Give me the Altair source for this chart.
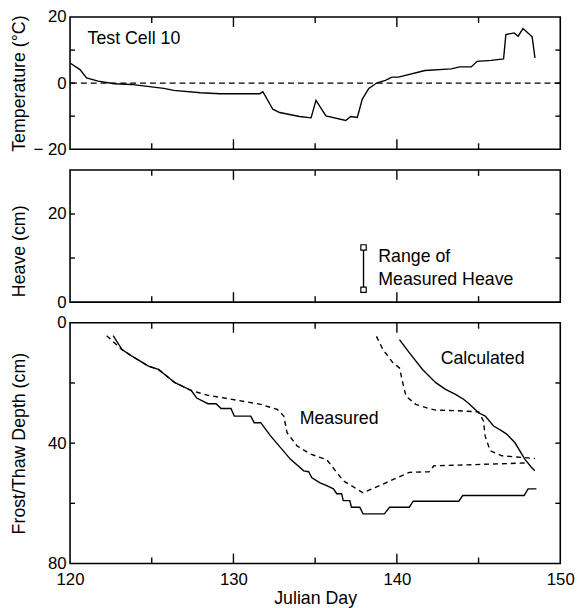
import altair as alt
import pandas as pd

# ---------------- data ----------------
TEMP_DAY = [120.0, 120.61, 121.01, 121.72, 122.71, 123.74, 125.74, 126.35, 127.98, 129.19,
            131.62, 131.8, 132.41, 132.83, 134.04, 134.75, 135.05, 135.66, 136.87, 137.18,
            137.58, 137.88, 138.28, 138.79, 139.3, 139.7, 140.1, 141.72, 143.33, 143.84,
            144.55, 144.91, 145.76, 146.53, 146.67, 147.18, 147.42, 147.72, 148.28, 148.45]
TEMP_C = [6.1, 4.1, 1.6, 0.6, -0.2, -0.4, -1.6, -2.2, -2.9, -3.2,
          -3.2, -2.6, -7.9, -8.9, -10.1, -10.5, -5.2, -9.9, -11.3, -10.1,
          -10.4, -4.9, -1.6, 0.1, 0.8, 1.8, 1.8, 3.8, 4.3, 4.9,
          4.9, 6.6, 6.9, 7.3, 14.7, 15.2, 14.2, 16.5, 14.0, 7.6]

HEAVE_DAY = [137.96, 137.96]
HEAVE_CM = [2.8, 12.4]

# frost penetration, solid line (stepped)
FROST_SOLID_DAY = [122.64, 123.18, 123.79, 124.8, 125.41, 126.42, 127.42, 127.75, 128.44, 128.94,
                   129.24, 129.85, 130.05, 131.06, 131.27, 131.67, 132.27, 133.48, 134.3, 134.6,
                   134.8, 135.3, 135.71, 136.12, 136.32, 136.62, 136.72, 137.12, 137.22, 137.73,
                   137.93, 139.24, 139.55, 140.76, 141.0, 143.79, 144.03, 147.79, 148.03, 148.54]
FROST_SOLID_CM = [4.3, 8.9, 11.1, 14.4, 15.5, 19.9, 22.5, 25.0, 26.9, 26.9,
                  28.5, 28.5, 31.0, 31.0, 33.2, 33.2, 37.6, 45.3, 49.2, 49.5,
                  51.5, 53.2, 54.1, 55.2, 56.8, 56.8, 59.1, 59.1, 61.3, 61.3,
                  63.5, 63.5, 61.3, 61.3, 59.3, 59.3, 57.4, 57.4, 55.2, 55.2]

# frost penetration, dashed line
FROST_DASH_DAY = [122.24, 123.18, 123.79, 124.8, 125.41, 126.42, 127.42, 128.44, 129.65, 131.67,
                  132.68, 133.08, 133.28, 133.89, 134.7, 135.71, 136.72, 137.93, 138.94, 140.76,
                  141.97, 142.27, 143.79, 147.83, 148.05]
FROST_DASH_CM = [4.3, 8.9, 11.1, 14.4, 15.5, 19.9, 22.5, 24.1, 25.2, 27.1,
                 28.8, 31.0, 36.5, 40.9, 43.6, 45.5, 52.5, 56.5, 54.1, 49.7,
                 49.5, 47.5, 47.3, 46.6, 46.5]

# thaw penetration, solid line
THAW_SOLID_DAY = [140.16, 140.77, 141.57, 142.38, 142.98, 143.59, 144.1, 144.4, 145.0, 145.41,
                  145.92, 146.42, 146.72, 147.22, 147.83, 148.23, 148.44]
THAW_SOLID_CM = [5.6, 10.0, 15.5, 19.9, 22.1, 23.8, 25.5, 26.8, 29.9, 31.0,
                 34.3, 35.9, 37.0, 39.8, 45.3, 48.0, 49.2]

# thaw penetration, dashed line
THAW_DASH_DAY = [138.75, 139.15, 139.76, 140.16, 140.36, 140.56, 141.16, 141.97, 142.38, 143.59,
                 145.0, 145.3, 145.4, 145.71, 146.42, 148.45]
THAW_DASH_CM = [4.5, 8.9, 13.3, 15.0, 19.9, 24.4, 27.1, 28.5, 29.0, 29.2,
                29.6, 32.6, 37.6, 42.5, 44.2, 45.1]

X_MAJOR_TICKS = [130, 140]
X_MINOR_TICKS = [125, 135, 145]
X_LABELS = [120, 130, 140, 150]
TEMP_TICKS = [-10, 0, 10]
TEMP_LABELS = [-20, 0, 20]
HEAVE_TICKS = [10, 20]
HEAVE_LABELS = [0, 20]
DEPTH_TICKS = [20, 40, 60]
DEPTH_LABELS = [0, 40, 80]

TEXT_TEMP = {"day": [121.07], "v": [13.3], "t": ["Test Cell 10"]}
TEXT_HEAVE = {"day": [138.86, 138.86], "v": [10.3, 5.1], "t": ["Range of", "Measured Heave"]}
TEXT_DEPTH = {"day": [134.05, 142.68], "v": [32.1, 12.0], "t": ["Measured", "Calculated"]}

# ---------------- layout / style ----------------
FONT = "Liberation Sans"
W = 497
H_TOP, H_MID, H_BOT = 134, 134, 244
TICK_MAJ, TICK_MIN, TICK_Y = 10, 6, 5
LW = 1.4

xscale = alt.Scale(domain=[120, 150], nice=False, zero=False)


def yaxis(title, values, title_y=None):
    kw = dict(title=title, values=values, titleX=-51.5, titleBaseline="middle",
              labelPadding=4, ticks=False, domain=False, grid=False,
              labelExpr="datum.value < 0 ? '\u2212 ' + abs(datum.value) : datum.label")
    if title_y is not None:
        kw["titleY"] = title_y
    return alt.Axis(**kw)


def panel(height, yscale, yax, xax, y_ticks, marks, text_dict):
    """marks: list of (DataFrame, mark kwargs, kind)"""
    X = lambda f: alt.X(f, scale=xscale, axis=xax)
    Y = lambda f: alt.Y(f, scale=yscale, axis=yax)
    layers = []
    for df, kw, kind in marks:
        if kind == "line":
            layers.append(alt.Chart(df).mark_line(**kw).encode(x=X("day:Q"), y=Y("v:Q"), order="i:Q"))
        elif kind == "point":
            layers.append(alt.Chart(df).mark_point(**kw).encode(x=X("day:Q"), y=Y("v:Q")))
        elif kind == "hrule":
            layers.append(alt.Chart(df).mark_rule(**kw).encode(y=Y("v:Q")))
    layers.append(alt.Chart(pd.DataFrame(text_dict)).mark_text(
        align="left", baseline="middle", fontSize=18, font=FONT, color="black").encode(
        x=X("day:Q"), y=Y("v:Q"), text="t:N"))
    xmaj = pd.DataFrame({"day": X_MAJOR_TICKS})
    xmin = pd.DataFrame({"day": X_MINOR_TICKS})
    yt = pd.DataFrame({"v": y_ticks})
    for df, ln in ((xmaj, TICK_MAJ), (xmin, TICK_MIN)):
        layers.append(alt.Chart(df).mark_rule(color="black", strokeWidth=LW).encode(
            x=X("day:Q"), y=alt.value(0), y2=alt.value(ln)))
        layers.append(alt.Chart(df).mark_rule(color="black", strokeWidth=LW).encode(
            x=X("day:Q"), y=alt.value(height - ln), y2=alt.value(height)))
    layers.append(alt.Chart(yt).mark_rule(color="black", strokeWidth=LW).encode(
        y=Y("v:Q"), x=alt.value(0), x2=alt.value(TICK_Y)))
    layers.append(alt.Chart(yt).mark_rule(color="black", strokeWidth=LW).encode(
        y=Y("v:Q"), x=alt.value(W - TICK_Y), x2=alt.value(W)))
    return alt.layer(*layers).properties(width=W, height=height)


def series(days, vals):
    return pd.DataFrame({"day": days, "v": vals, "i": list(range(len(days)))})


solid = {"color": "black", "strokeWidth": LW}
dashed = {"color": "black", "strokeWidth": LW, "strokeDash": [5, 4]}

# ---- top panel: temperature ----
top = panel(
    H_TOP, alt.Scale(domain=[-20, 20], nice=False, zero=False),
    yaxis("Temperature (°C)", TEMP_LABELS), None, TEMP_TICKS,
    [(series(TEMP_DAY, TEMP_C), solid, "line"),
     (pd.DataFrame({"v": [0]}), {"color": "black", "strokeWidth": 1.2, "strokeDash": [6, 4]}, "hrule")],
    TEXT_TEMP)

# ---- middle panel: heave ----
mid = panel(
    H_MID, alt.Scale(domain=[0, 30], nice=False, zero=False),
    yaxis("Heave (cm)", HEAVE_LABELS, 82), None, HEAVE_TICKS,
    [(series(HEAVE_DAY, HEAVE_CM), solid, "line"),
     (series(HEAVE_DAY, HEAVE_CM), {"shape": "square", "filled": True, "fill": "white",
                                    "stroke": "black", "strokeWidth": 1.2, "size": 30,
                                    "opacity": 1}, "point")],
    TEXT_HEAVE)

# ---- bottom panel: frost / thaw depth ----
xaxis = alt.Axis(values=X_LABELS, title="Julian Day", ticks=False, domain=False, grid=False,
                 labelPadding=8, titlePadding=3, labelFlush=False)
bot = panel(
    H_BOT, alt.Scale(domain=[0, 80], nice=False, zero=False, reverse=True),
    yaxis("Frost/Thaw Depth (cm)", DEPTH_LABELS), xaxis, DEPTH_TICKS,
    [(series(FROST_SOLID_DAY, FROST_SOLID_CM), solid, "line"),
     (series(FROST_DASH_DAY, FROST_DASH_CM), dashed, "line"),
     (series(THAW_SOLID_DAY, THAW_SOLID_CM), solid, "line"),
     (series(THAW_DASH_DAY, THAW_DASH_CM), dashed, "line")],
    TEXT_DEPTH)

chart = alt.vconcat(top, mid, bot, spacing=21, bounds="flush").properties(
    padding={"left": 9, "top": 3, "right": 5, "bottom": 5}, background="white"
).configure_view(stroke="black", strokeWidth=1.6).configure_axis(
    labelFont=FONT, titleFont=FONT, labelFontSize=17, titleFontSize=18,
    labelColor="black", titleColor="black", titleFontWeight="normal")

chart.save("out.html", embed_options={"renderer": "svg", "actions": False})
